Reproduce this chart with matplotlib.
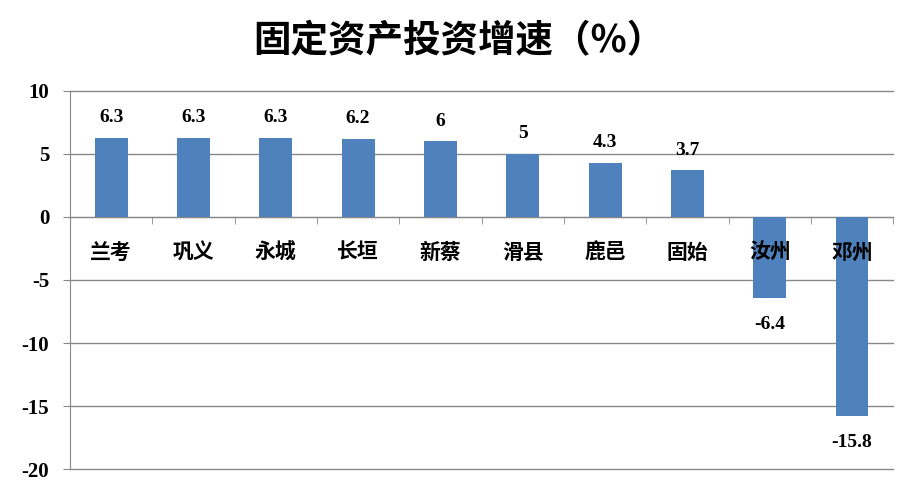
# 固定资产投资增速柱状图

import matplotlib.pyplot as plt
from matplotlib.ticker import FixedLocator

plt.rcParams['font.family'] = ['Noto Sans CJK SC', 'DejaVu Sans']

cities = ["兰考", "巩义", "永城", "长垣", "新蔡", "滑县", "鹿邑", "固始", "汝州", "邓州"]
growth = [6.3, 6.3, 6.3, 6.2, 6, 5, 4.3, 3.7, -6.4, -15.8]
value_labels = ["6.3", "6.3", "6.3", "6.2", "6", "5", "4.3", "3.7", "-6.4", "-15.8"]
y_ticks = [-20, -15, -10, -5, 0, 5, 10]

fig = plt.figure(figsize=(9.17, 4.94), dpi=100)
ax = fig.add_axes([0.0763, 0.0506, 0.8977, 0.7652])

x = list(range(len(cities)))
bars = ax.bar(x, growth, width=0.4, color="#4F81BD", zorder=3)

ax.set_xlim(-0.5, len(cities) - 0.5)
ax.set_ylim(-20, 10)
ax.set_yticks(y_ticks)
ax.set_yticklabels([str(t) for t in y_ticks], family="Liberation Serif",
                   fontweight="bold", fontsize=15)
ax.tick_params(axis="y", length=5, color="#888888", pad=10)
ax.yaxis.grid(True, color="#888888", linewidth=1, zorder=0, clip_on=False)

# x 轴：刻度线在类别边界，标签放在零线下方
ax.set_xticks([])
ax.xaxis.set_minor_locator(FixedLocator([i + 0.5 for i in x]))
ax.tick_params(axis="x", which="minor", length=5, color="#888888")
for i, name in zip(x, cities):
    ax.text(i, -2.8, name, ha="center", va="center", fontsize=15,
            fontweight="bold", zorder=4)

for spine in ["top", "right"]:
    ax.spines[spine].set_visible(False)
ax.spines["left"].set_color("#888888")
ax.spines["bottom"].set_position(("data", 0))
ax.spines["bottom"].set_color("#888888")

for i, (v, lab) in enumerate(zip(growth, value_labels)):
    off = 1.6 if v >= 0 else -2.1
    ax.text(i, v + off, lab, ha="center", va="center", fontsize=14,
            fontweight="bold", family="Liberation Serif", zorder=4)

fig.text(0.5, 0.918, "固定资产投资增速（%）", ha="center", va="center",
         fontsize=27, fontweight="bold")

fig.savefig("out.png", dpi=100)
